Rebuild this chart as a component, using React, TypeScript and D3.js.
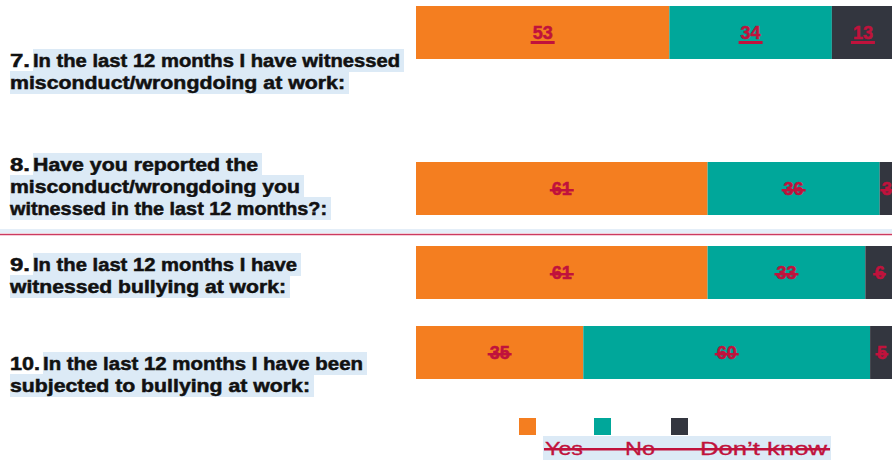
import React from "react";
import * as d3 from "d3";

// ---- data ----
const categories = ["7", "8", "9", "10"];
const questionLines: string[][] = [
  ["In the last 12 months I have witnessed", "misconduct/wrongdoing at work:"],
  ["Have you reported the", "misconduct/wrongdoing you", "witnessed in the last 12 months?:"],
  ["In the last 12 months I have", "witnessed bullying at work:"],
  ["In the last 12 months I have been", "subjected to bullying at work:"],
];
const seriesNames = ["Yes", "No", "Don’t know"];
const yesValues = [53, 61, 61, 35];
const noValues = [34, 36, 33, 60];
const dontKnowValues = [13, 3, 6, 5];

// ---- layout / style ----
const W = 892;
const H = 463;
const COLORS = ["#f47e20", "#00a79a", "#33363f"];
const LABEL_RED = "#c0123c";
const HILITE = "#dceaf6";
const FONT = "'Liberation Sans', Arial, sans-serif";
const ROW_TOPS = [6, 162, 246, 326];
const BAR_H = 53;
const Q_BASELINES = [[67, 89], [171, 193, 215], [271, 293], [370, 392]];
const Q_LINE_ENDS = [[400, 345], [258, 300, 327], [297, 286], [363, 310]];
const Q_TEXT_START = [33, 33, 33, 43];
const LABEL_DECOR = ["underline", "strike", "strike", "strike"];
const LEGEND_SWATCH_X = [519, 594, 671];
const LEGEND_TEXT_X = [545, 625, 700];
const LEGEND_TEXT_W = [38, 30, 127];

export default function App() {
  const x = d3.scaleLinear().domain([0, 100]).range([416, 894]);
  const rows = categories.map((c, i) => ({
    cat: c,
    Yes: yesValues[i],
    No: noValues[i],
    DK: dontKnowValues[i],
  }));
  const stack = d3.stack<any>().keys(["Yes", "No", "DK"]);
  const series = stack(rows);

  return (
    <svg
      width={W}
      height={H}
      style={{ position: "absolute", left: 0, top: 0, background: "#fff" }}
      fontFamily={FONT}
    >
      {/* divider */}
      <rect x={0} y={229} width={W} height={4} fill="#e4eef8" />
      <line x1={0} x2={W} y1={234.5} y2={234.5} stroke="#cc3a60" strokeWidth={1.5} />

      {/* questions */}
      {categories.map((c, i) =>
        questionLines[i].map((line, j) => {
          const base = Q_BASELINES[i][j];
          const start = j === 0 ? Q_TEXT_START[i] : 10;
          const end = Q_LINE_ENDS[i][j];
          return (
            <g key={`q${i}-${j}`}>
              <rect x={start} y={base - 18} width={end - start + 4} height={23} fill={HILITE} />
              {j === 0 && (
                <text
                  x={10}
                  y={base}
                  fontSize={18}
                  fontWeight="bold"
                  fill="#111"
                  stroke="#111"
                  strokeWidth={0.5}
                  textLength={start - 13}
                  lengthAdjust="spacingAndGlyphs"
                >
                  {c + "."}
                </text>
              )}
              <text
                x={start}
                y={base}
                fontSize={18}
                fontWeight="bold"
                fill="#111"
                stroke="#111"
                strokeWidth={0.5}
                textLength={end - start}
                lengthAdjust="spacingAndGlyphs"
              >
                {line}
              </text>
            </g>
          );
        })
      )}

      {/* bars */}
      {series.map((s, k) => (
        <g key={`s${k}`}>
          {s.map((d, i) => (
            <rect
              key={i}
              x={x(d[0])}
              y={ROW_TOPS[i]}
              width={x(d[1]) - x(d[0])}
              height={BAR_H}
              fill={COLORS[k]}
            />
          ))}
        </g>
      ))}

      {/* value labels */}
      {series.map((s, k) => (
        <g key={`l${k}`}>
          {s.map((d, i) => {
            const v = d[1] - d[0];
            const cx = (x(d[0]) + x(d[1])) / 2;
            const base = ROW_TOPS[i] + BAR_H / 2 + 6.5;
            const tw = String(v).length * 11;
            return (
              <g key={i}>
                <text
                  x={cx}
                  y={base}
                  textAnchor="middle"
                  fontSize={18}
                  fontWeight="bold"
                  fill={LABEL_RED}
                  stroke={LABEL_RED}
                  strokeWidth={0.5}
                >
                  {v}
                </text>
                {LABEL_DECOR[i] === "underline" ? (
                  <rect x={cx - tw / 2 - 1} y={base + 2} width={tw + 2} height={3} fill={LABEL_RED} />
                ) : (
                  <rect x={cx - tw / 2 - 1} y={base - 6} width={tw + 2} height={2.5} fill={LABEL_RED} />
                )}
              </g>
            );
          })}
        </g>
      ))}

      {/* legend */}
      <rect x={543} y={436} width={288} height={24} fill={HILITE} />
      {seriesNames.map((n, k) => (
        <g key={`lg${k}`}>
          <rect x={LEGEND_SWATCH_X[k]} y={418} width={17} height={17} fill={COLORS[k]} />
          <text
            x={LEGEND_TEXT_X[k]}
            y={455}
            fontSize={18}
            fill={LABEL_RED}
            stroke={LABEL_RED}
            strokeWidth={0.3}
            textLength={LEGEND_TEXT_W[k]}
            lengthAdjust="spacingAndGlyphs"
          >
            {n}
          </text>
        </g>
      ))}
      <rect x={544} y={448} width={286} height={2.5} fill={LABEL_RED} />
    </svg>
  );
}
